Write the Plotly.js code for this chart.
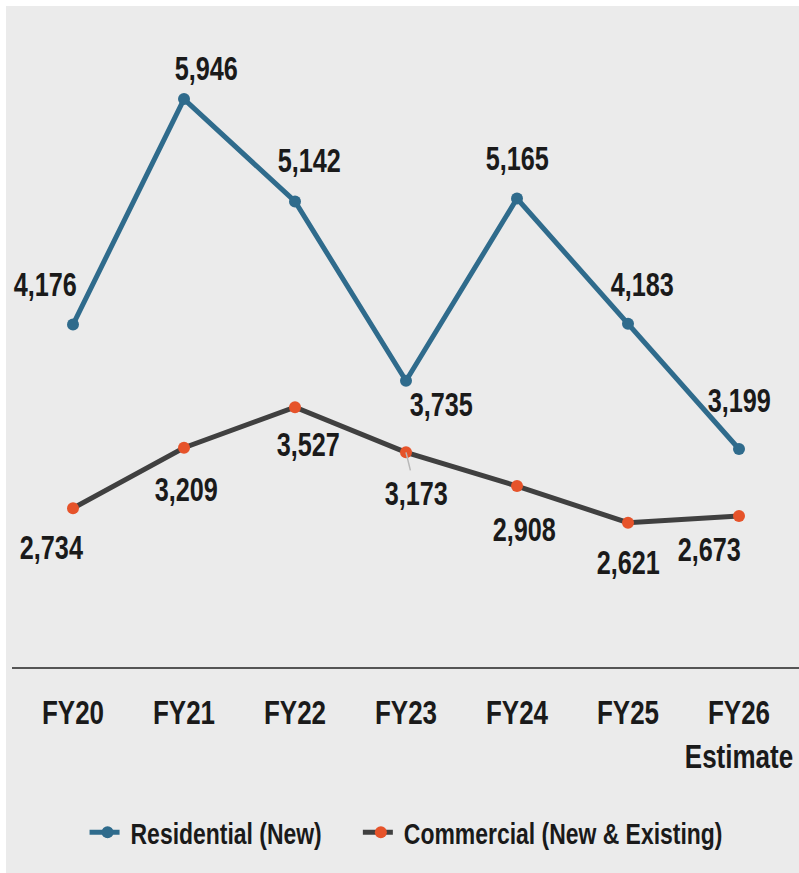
<!DOCTYPE html>
<html>
<head>
<meta charset="utf-8">
<script src="https://cdn.plot.ly/plotly-3.0.1.min.js"></script>
<style>
html,body{margin:0;padding:0;background:#ffffff;}
#chart{position:absolute;left:6px;top:6px;width:793px;height:867px;}
</style>
</head>
<body>
<div id="chart"></div>
<script>
const categories = ['FY20','FY21','FY22','FY23','FY24','FY25','FY26'];
const tickLabels = ['FY20','FY21','FY22','FY23','FY24','FY25','FY26<br>Estimate'];
const residential = [4176, 5946, 5142, 3735, 5165, 4183, 3199];
const commercial = [2734, 3209, 3527, 3173, 2908, 2621, 2673];

// label offsets (px) — styling only
const resShiftX = [-28, 22, 14, 35, 0, 14, 0];
const resShiftY = [40, 31, 41, -24, 40, 39, 49];
const comShiftX = [-22, 2, 13, 10, 7, 0, -30];
const comShiftY = [-39, -42, -37, -41, -43, -40, -33];

const FONT = '"Liberation Sans", Arial, sans-serif';
const SQUEEZE = 0.765;
const blue = '#2f6b8c';
const dark = '#404040';
const orange = '#e6532a';

const fmt = v => v.toLocaleString('en-US');

const traces = [
  {
    x: categories, y: residential, type: 'scatter', mode: 'lines+markers',
    name: 'Residential (New)',
    line: {color: blue, width: 5},
    marker: {color: blue, size: 12},
    hoverinfo: 'skip'
  },
  {
    x: categories, y: commercial, type: 'scatter', mode: 'lines+markers',
    name: 'Commercial (New & Existing)',
    line: {color: dark, width: 5},
    marker: {color: orange, size: 12},
    hoverinfo: 'skip'
  }
];

const labelFont = {family: FONT, size: 33, color: '#1a1a1a', weight: 700};
const annotations = [];
categories.forEach((c, i) => {
  annotations.push({
    x: c, y: residential[i], xref: 'x', yref: 'y', text: fmt(residential[i]),
    showarrow: false, xshift: resShiftX[i], yshift: resShiftY[i], font: labelFont
  });
  const a = {x: c, y: commercial[i], xref: 'x', yref: 'y', text: fmt(commercial[i]), font: labelFont};
  if (c === 'FY23') {
    Object.assign(a, {showarrow: true, arrowhead: 0, arrowwidth: 1.5, arrowcolor: '#b8b8b8',
      ax: comShiftX[i], ay: -comShiftY[i], standoff: 0, borderpad: 4});
  } else {
    Object.assign(a, {showarrow: false, xshift: comShiftX[i], yshift: comShiftY[i]});
  }
  annotations.push(a);
});

const layout = {
  width: 793, height: 867,
  paper_bgcolor: '#ebebeb', plot_bgcolor: '#ebebeb',
  margin: {l: 6, r: 0, t: 24, b: 206},
  showlegend: true,
  font: {family: FONT, color: '#1a1a1a'},
  xaxis: {
    type: 'category',
    range: [-0.5495, 6.5405],
    tickvals: categories, ticktext: tickLabels,
    tickangle: 0,
    showline: true, linecolor: '#555555', linewidth: 2,
    showgrid: false, zeroline: false, ticks: '',
    ticklabelstandoff: 14,
    tickfont: {family: FONT, size: 34, color: '#1a1a1a', weight: 700}
  },
  yaxis: {range: [1488, 6488], visible: false, showgrid: false, zeroline: false},
  legend: {
    orientation: 'h', xref: 'container', yref: 'container',
    x: 0.515, xanchor: 'center', y: 0.047, yanchor: 'middle',
    font: {family: FONT, size: 30, color: '#1a1a1a', weight: 700},
    bgcolor: 'rgba(0,0,0,0)'
  },
  annotations: annotations
};

// horizontally condense text (reference uses a narrow typeface)
function squeeze(el, s, mode) {
  const bb = el.getBBox();
  const cx = mode === 'left' ? bb.x : bb.x + bb.width / 2;
  const t = el.getAttribute('transform') || '';
  el.setAttribute('transform', t + ' translate(' + cx + ',0) scale(' + s + ',1) translate(' + (-cx) + ',0)');
  return bb;
}
function parseT(el) {
  const m = /translate\(\s*([-\d.eE]+)[\s,]+([-\d.eE]+)\s*\)/.exec(el.getAttribute('transform') || '');
  return m ? [parseFloat(m[1]), parseFloat(m[2])] : [0, 0];
}

Plotly.newPlot('chart', traces, layout, {displayModeBar: false, staticPlot: true}).then(function () {
  document.querySelectorAll('#chart .annotation-text').forEach(el => squeeze(el, SQUEEZE, 'center'));
  document.querySelectorAll('#chart .xtick text').forEach(el => squeeze(el, SQUEEZE, 'center'));

  const items = Array.from(document.querySelectorAll('#chart .legend .traces'));
  let prevEnd = null;
  items.forEach(it => {
    // longer legend line sample, like the reference
    it.querySelectorAll('.legendpoints path.js-line').forEach(p => {
      const t = p.getAttribute('transform') || '';
      p.setAttribute('transform', t + ' translate(20,0) scale(1.45,1) translate(-20,0)');
    });
    it.querySelectorAll('.legendpoints').forEach(g => {
      const t = g.getAttribute('transform') || '';
      g.setAttribute('transform', t + ' translate(3,0)');
    });
    const txt = it.querySelector('.legendtext');
    const bb = squeeze(txt, SQUEEZE, 'left');
    const t0 = txt.getAttribute('transform') || '';
    txt.setAttribute('transform', 'translate(6,0) ' + t0);
    let [x, y] = parseT(it);
    if (prevEnd !== null) x = prevEnd + 36;
    it.setAttribute('transform', 'translate(' + x + ',' + y + ')');
    prevEnd = x + 6 + bb.x + bb.width * SQUEEZE;
  });
  let L = Infinity, R = -Infinity;
  document.querySelectorAll('#chart .legend .legendpoints, #chart .legend .legendtext').forEach(el => {
    const r = el.getBoundingClientRect();
    L = Math.min(L, r.left); R = Math.max(R, r.right);
  });
  const lg = document.querySelector('#chart .legend');
  const [lx, ly] = parseT(lg);
  const delta = 412 - (L + R) / 2;
  lg.setAttribute('transform', 'translate(' + (lx + delta) + ',' + ly + ')');
});
</script>
</body>
</html>
